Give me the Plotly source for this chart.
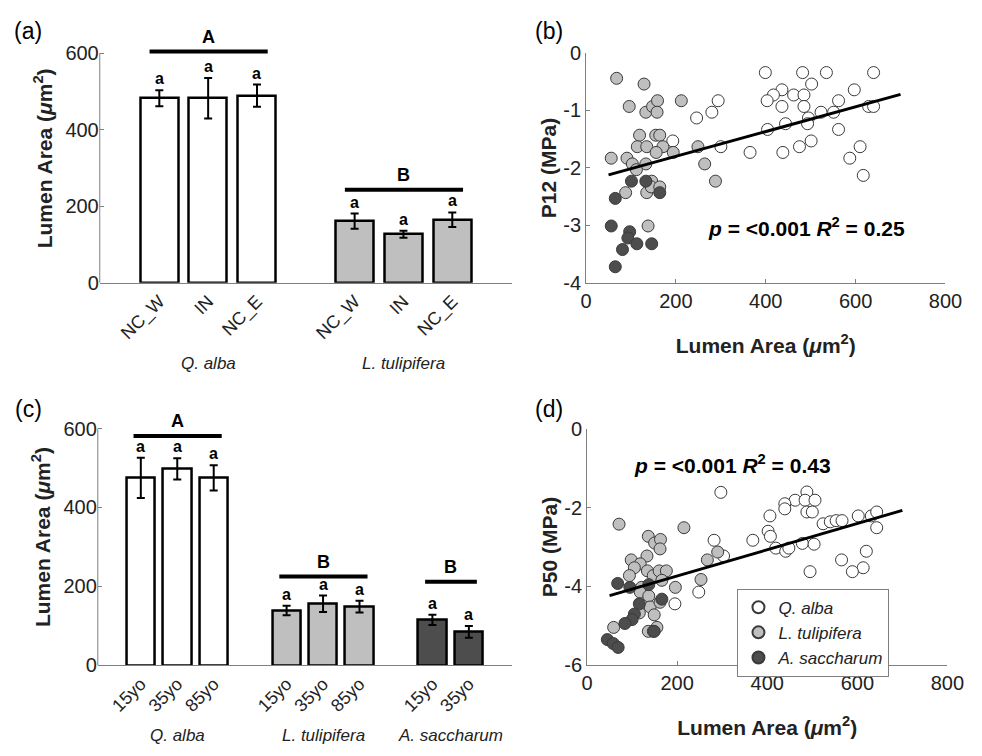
import plotly.graph_objects as go

FONT = "Arial, 'Liberation Sans', Helvetica, sans-serif"
AXIS_GREY = "#7f7f7f"
COL_ALBA = "#ffffff"
COL_TULIP = "#bfbfbf"
COL_SACCH = "#4d4d4d"

# ---------------- Panel (a): lumen area by site ----------------
a_species = ["Q. alba", "L. tulipifera"]
a_sites = ["NC_W", "IN", "NC_E"]
a_alba_mean = [482, 482, 489]
a_alba_err = [21, 53, 29]
a_tulip_mean = [161, 127, 165]
a_tulip_err = [20, 9, 19]
a_group_letters = ["A", "B"]
a_group_line = [604, 243]
a_bar_letters = ["a", "a", "a", "a", "a", "a"]

# ---------------- Panel (c): lumen area by age ----------------
c_species = ["Q. alba", "L. tulipifera", "A. saccharum"]
c_ages_alba = ["15yo", "35yo", "85yo"]
c_ages_tulip = ["15yo", "35yo", "85yo"]
c_ages_sacch = ["15yo", "35yo"]
c_alba_mean = [475, 498, 475]
c_alba_err = [51, 27, 32]
c_tulip_mean = [139, 156, 149]
c_tulip_err = [12, 21, 15]
c_sacch_mean = [115, 85]
c_sacch_err = [13, 15]
c_group_letters = ["A", "B", "B"]
c_group_line = [581, 225, 212]
c_bar_letters = ["a", "a", "a", "a", "a", "a", "a", "a"]

# ---------------- Panel (b): P12 vs lumen area ----------------
b_alba_x = [399, 482, 535, 640, 502, 436, 417, 462, 485, 597, 403, 562, 294, 436, 485, 629, 640,
            280, 246, 523, 551, 495, 444, 493, 404, 562, 193, 501, 475, 610, 300, 365, 438, 587, 617]
b_alba_y = [-0.34, -0.34, -0.34, -0.34, -0.54, -0.64, -0.73, -0.73, -0.73, -0.64, -0.83, -0.83, -0.83,
            -0.93, -0.93, -0.93, -0.93, -1.03, -1.13, -1.03, -1.03, -1.13, -1.23, -1.23, -1.33, -1.33,
            -1.53, -1.53, -1.63, -1.63, -1.63, -1.73, -1.73, -1.83, -2.13]
b_tulip_x = [68, 129, 96, 133, 148, 159, 158, 212, 119, 155, 164, 114, 135, 171, 156, 194, 56, 91,
             249, 133, 103, 112, 264, 288, 88, 135, 146, 145, 164, 138]
b_tulip_y = [-0.44, -0.54, -0.93, -1.03, -0.93, -0.83, -1.03, -0.83, -1.43, -1.43, -1.43, -1.63, -1.63,
             -1.63, -1.73, -1.73, -1.83, -1.83, -1.63, -1.93, -1.93, -2.03, -1.93, -2.23, -2.43, -2.43,
             -2.23, -2.33, -2.33, -3.01]
b_sacch_x = [101, 133, 65, 164, 56, 97, 93, 113, 146, 81, 65]
b_sacch_y = [-2.23, -2.23, -2.53, -2.43, -3.01, -3.11, -3.22, -3.32, -3.32, -3.42, -3.72]
b_fit_x = [50, 700]
b_fit_y = [-2.12, -0.72]
b_stats = "<b><i>p</i> = &lt;0.001 <i>R</i><sup>2</sup> = 0.25</b>"

# ---------------- Panel (d): P50 vs lumen area ----------------
d_alba_x = [297, 488, 462, 484, 506, 439, 439, 488, 500, 406, 524, 540, 553, 566, 602, 631, 643, 643,
            402, 407, 282, 368, 419, 441, 448, 478, 504, 303, 620, 565, 613, 589, 495, 248, 195]
d_alba_y = [-1.61, -1.60, -1.81, -1.81, -1.81, -1.90, -2.03, -2.11, -2.11, -2.21, -2.41, -2.36, -2.33,
            -2.33, -2.21, -2.21, -2.11, -2.51, -2.60, -2.73, -2.83, -2.83, -3.03, -3.11, -3.03, -2.91,
            -2.93, -3.23, -3.11, -3.33, -3.53, -3.63, -3.63, -4.15, -4.45]
d_tulip_x = [71, 215, 136, 150, 163, 162, 133, 98, 118, 105, 94, 134, 147, 160, 176, 166, 290, 267,
             253, 196, 121, 118, 137, 140, 162, 116, 149, 59, 155, 136, 147]
d_tulip_y = [-2.42, -2.51, -2.73, -2.90, -2.81, -3.05, -3.23, -3.33, -3.43, -3.53, -3.73, -3.61, -3.73,
             -3.61, -3.61, -3.85, -3.13, -3.33, -3.83, -4.03, -4.03, -4.15, -4.25, -4.53, -4.41, -4.68,
             -4.73, -5.05, -5.05, -5.15, -5.15]
d_sacch_x = [68, 95, 137, 166, 116, 105, 100, 84, 149, 45, 58, 69]
d_sacch_y = [-3.93, -4.03, -3.96, -4.33, -4.45, -4.71, -4.85, -4.95, -5.15, -5.36, -5.46, -5.56]
d_fit_x = [50, 700]
d_fit_y = [-4.24, -2.07]
d_stats = "<b><i>p</i> = &lt;0.001 <i>R</i><sup>2</sup> = 0.43</b>"

scatter_xticks = [0, 200, 400, 600, 800]
b_yticks = [-4, -3, -2, -1, 0]
b_yticktext = ["-4", "-3", "-2", "-1", "0"]
d_yticks = [-6, -4, -2, 0]
d_yticktext = ["-6", "-4", "-2", "0"]
bar_yticks = [0, 200, 400, 600]

LUMEN_TITLE = "<b>Lumen Area (<i>μ</i>m<sup>2</sup>)</b>"

fig = go.Figure()
shapes = []
annotations = []


def bar_panel(xa, ya, species, labels, means, errs, colors, letters, group_letters, group_lines,
              species_y):
    xref, yref = xa, ya
    tickvals, ticktext = [], []
    k = 0
    for g in range(len(means)):
        pos = [g * 4 + i + 1 for i in range(len(means[g]))]
        tickvals += pos
        ticktext += labels[g]
        fig.add_trace(go.Bar(
            x=pos, y=means[g], width=0.78,
            marker=dict(color=colors[g], line=dict(color="black", width=2.5)),
            error_y=dict(type="data", array=errs[g], color="black", thickness=2, width=4),
            xaxis=xa, yaxis=ya, showlegend=False, hoverinfo="skip"))
        for p, m, e in zip(pos, means[g], errs[g]):
            annotations.append(dict(x=p, y=m + e, xref=xref, yref=yref, text="<b>%s</b>" % letters[k],
                                    showarrow=False, yanchor="bottom", yshift=1,
                                    font=dict(size=16, color="black", family=FONT)))
            k += 1
        shapes.append(dict(type="line", xref=xref, yref=yref, x0=pos[0] - 0.2, x1=pos[-1] + 0.22,
                           y0=group_lines[g], y1=group_lines[g], line=dict(color="black", width=4)))
        center = sum(pos) / len(pos)
        annotations.append(dict(x=center, y=group_lines[g], xref=xref, yref=yref,
                                text="<b>%s</b>" % group_letters[g], showarrow=False,
                                yanchor="bottom", yshift=3,
                                font=dict(size=18, color="black", family=FONT)))
        annotations.append(dict(x=center, y=species_y, xref=xref, yref="paper",
                                text="<i>%s</i>" % species[g], showarrow=False,
                                yanchor="middle", font=dict(size=17, color="#222222", family=FONT)))
    # y axis line from 0 to 600
    shapes.append(dict(type="line", xref=xa + " domain", yref=yref, x0=0, x1=0, y0=0, y1=600,
                       line=dict(color=AXIS_GREY, width=1)))
    return tickvals, ticktext


a_tv, a_tt = bar_panel("x", "y", a_species, [a_sites, a_sites], [a_alba_mean, a_tulip_mean],
                       [a_alba_err, a_tulip_err], [COL_ALBA, COL_TULIP], a_bar_letters,
                       a_group_letters, a_group_line, 0.5194)
c_tv, c_tt = bar_panel("x3", "y3", c_species, [c_ages_alba, c_ages_tulip, c_ages_sacch],
                       [c_alba_mean, c_tulip_mean, c_sacch_mean],
                       [c_alba_err, c_tulip_err, c_sacch_err], [COL_ALBA, COL_TULIP, COL_SACCH],
                       c_bar_letters, c_group_letters, c_group_line, 0.0123)


def scatter_panel(xa, ya, sets, fit_x, fit_y, show_legend):
    for name, xs, ys, fill in sets:
        fig.add_trace(go.Scatter(
            x=xs, y=ys, mode="markers", name="<i>%s</i>" % name,
            marker=dict(size=12, color=fill, line=dict(color="#3a3a3a", width=1)),
            xaxis=xa, yaxis=ya, showlegend=show_legend, hoverinfo="skip"))
    fig.add_trace(go.Scatter(x=fit_x, y=fit_y, mode="lines", line=dict(color="black", width=3),
                             xaxis=xa, yaxis=ya, showlegend=False, hoverinfo="skip"))


scatter_panel("x2", "y2", [("Q. alba", b_alba_x, b_alba_y, COL_ALBA),
                           ("L. tulipifera", b_tulip_x, b_tulip_y, COL_TULIP),
                           ("A. saccharum", b_sacch_x, b_sacch_y, COL_SACCH)],
              b_fit_x, b_fit_y, False)
scatter_panel("x4", "y4", [("Q. alba", d_alba_x, d_alba_y, COL_ALBA),
                           ("L. tulipifera", d_tulip_x, d_tulip_y, COL_TULIP),
                           ("A. saccharum", d_sacch_x, d_sacch_y, COL_SACCH)],
              d_fit_x, d_fit_y, True)

annotations.append(dict(x=490, y=-3.03, xref="x2", yref="y2", text=b_stats, showarrow=False,
                        font=dict(size=21, color="black", family=FONT)))
annotations.append(dict(x=322, y=-0.89, xref="x4", yref="y4", text=d_stats, showarrow=False,
                        font=dict(size=21, color="black", family=FONT)))

for lab, px, py in [("(a)", 23, 21), ("(b)", 556, 21), ("(c)", 23, 410), ("(d)", 556, 410)]:
    annotations.append(dict(x=px / 982, y=1 - py / 756, xref="paper", yref="paper", text=lab,
                            showarrow=False, xanchor="center", yanchor="middle",
                            font=dict(size=23, color="black", family=FONT)))

tick_font = dict(size=20, color="#222222", family=FONT)
title_font = dict(size=21, color="#222222", family=FONT)

bar_x_common = dict(showline=True, linecolor=AXIS_GREY, linewidth=1, ticks="", tickangle=-45,
                    tickfont=dict(size=18, color="#222222", family=FONT), showgrid=False,
                    zeroline=False)
bar_y_common = dict(showline=False, ticks="inside", ticklen=4, tickcolor=AXIS_GREY, tickvals=bar_yticks,
                    range=[0, 650], tickfont=tick_font, showgrid=False, zeroline=False,
                    title=dict(text=LUMEN_TITLE, font=title_font, standoff=7))
sc_x_common = dict(showline=True, linecolor=AXIS_GREY, linewidth=1, ticks="inside", ticklen=4,
                   tickcolor=AXIS_GREY, range=[0, 800], tickvals=scatter_xticks, tickfont=tick_font,
                   showgrid=False, zeroline=False,
                   title=dict(text=LUMEN_TITLE, font=title_font, standoff=27))
sc_y_common = dict(showline=True, linecolor=AXIS_GREY, linewidth=1, ticks="inside", ticklen=4,
                   tickcolor=AXIS_GREY, tickfont=tick_font, showgrid=False, zeroline=False)

fig.update_layout(
    width=982, height=756, margin=dict(l=0, r=0, t=0, b=0),
    paper_bgcolor="white", plot_bgcolor="white",
    font=dict(family=FONT, color="#222222"),
    bargap=0,
    xaxis=dict(domain=[0.09776, 0.52749], range=[-0.22, 8.22], tickvals=a_tv, ticktext=a_tt,
               anchor="y", **bar_x_common),
    yaxis=dict(domain=[0.62963, 0.96873], anchor="x", **bar_y_common),
    xaxis3=dict(domain=[0.09572, 0.52749], range=[-0.18, 11.18], tickvals=c_tv, ticktext=c_tt,
                anchor="y3", **bar_x_common),
    yaxis3=dict(domain=[0.10847, 0.45807], anchor="x3", **bar_y_common),
    xaxis2=dict(domain=[0.60489, 0.97963], anchor="y2", **sc_x_common),
    yaxis2=dict(domain=[0.62963, 0.94272], anchor="x2", range=[-4, 0], tickvals=b_yticks,
                ticktext=b_yticktext, title=dict(text="<b>P12 (MPa)</b>", font=title_font, standoff=0),
                **sc_y_common),
    xaxis4=dict(domain=[0.60591, 0.98167], anchor="y4", **sc_x_common),
    yaxis4=dict(domain=[0.10939, 0.43029], anchor="x4", range=[-6, 0], tickvals=d_yticks,
                ticktext=d_yticktext, title=dict(text="<b>P50 (MPa)</b>", font=title_font, standoff=0),
                **sc_y_common),
    legend=dict(x=749 / 982, y=1 - 595 / 756, xanchor="left", yanchor="top",
                bordercolor=AXIS_GREY, borderwidth=1, bgcolor="white", itemsizing="constant",
                font=dict(size=17, color="#222222", family=FONT), tracegroupgap=0),
    shapes=shapes,
    annotations=annotations,
)

fig.write_html("out.html")
